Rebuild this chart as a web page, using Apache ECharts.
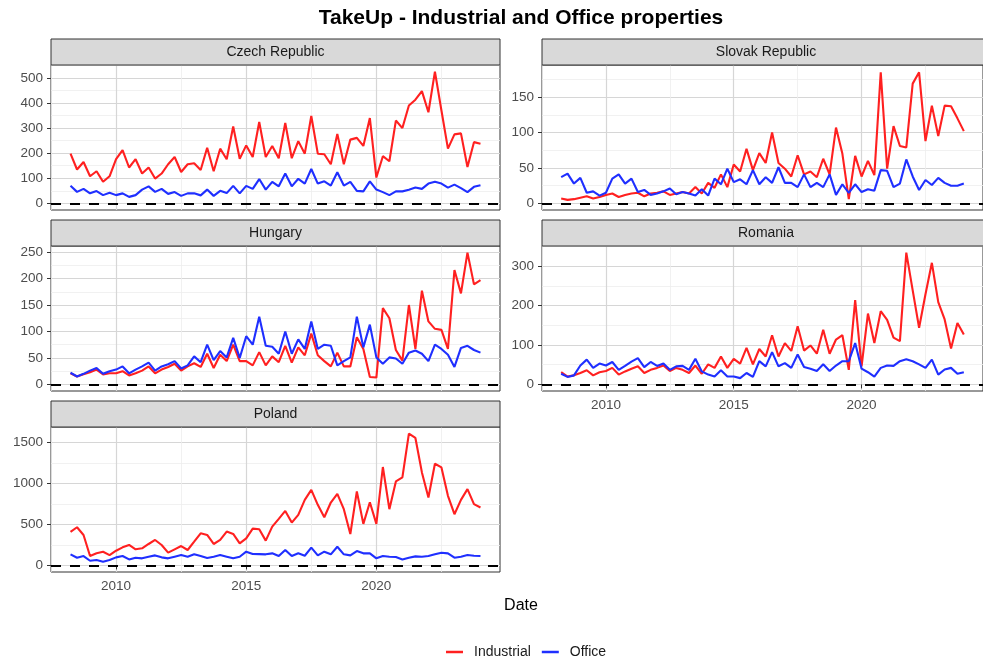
<!DOCTYPE html>
<html><head><meta charset="utf-8">
<script src="https://cdn.jsdelivr.net/npm/echarts@6/dist/echarts.min.js"></script>
<style>html,body{margin:0;padding:0;background:#fff}#c{width:983px;height:662px}</style>
</head><body><div id="c"></div>
<script>
// ---------- DATA ----------
const quarters = [
 '2008-04','2008-07','2008-10',
 '2009-01','2009-04','2009-07','2009-10',
 '2010-01','2010-04','2010-07','2010-10',
 '2011-01','2011-04','2011-07','2011-10',
 '2012-01','2012-04','2012-07','2012-10',
 '2013-01','2013-04','2013-07','2013-10',
 '2014-01','2014-04','2014-07','2014-10',
 '2015-01','2015-04','2015-07','2015-10',
 '2016-01','2016-04','2016-07','2016-10',
 '2017-01','2017-04','2017-07','2017-10',
 '2018-01','2018-04','2018-07','2018-10',
 '2019-01','2019-04','2019-07','2019-10',
 '2020-01','2020-04','2020-07','2020-10',
 '2021-01','2021-04','2021-07','2021-10',
 '2022-01','2022-04','2022-07','2022-10',
 '2023-01','2023-04','2023-07','2023-10',
 '2024-01'
];
const panelNames = ['Czech Republic','Slovak Republic','Hungary','Romania','Poland'];
const seriesNames = ['Industrial','Office'];

const czechIndustrial = [198,135,165,108,128,86,108,176,212,143,176,119,143,99,119,156,185,125,156,160,133,222,128,218,176,306,178,231,185,324,185,229,180,320,180,248,198,348,198,196,156,277,156,254,261,229,340,103,188,168,330,300,390,413,447,363,525,370,218,275,279,145,244,238];
const czechOffice = [70,46,58,40,49,33,42,33,40,26,33,55,68,46,58,38,45,30,40,40,32,55,30,50,41,70,40,70,58,97,55,86,68,119,68,98,79,137,79,88,71,124,71,86,50,48,88,55,45,33,48,48,54,63,58,79,86,79,63,75,61,45,66,72];

const slovakIndustrial = [7,5,6,8,10,7,9,12,14,9,12,14,15,10,14,15,17,12,14,16,14,23,14,29,22,41,23,55,45,77,47,71,57,100,57,49,38,68,41,45,37,63,41,107,70,6,67,38,60,40,185,49,109,81,79,169,185,88,138,95,138,137,120,102];
const slovakOffice = [37,42,28,36,15,17,11,15,35,41,28,35,16,19,12,14,17,21,13,16,14,11,20,11,35,27,49,30,34,27,47,27,37,29,51,29,29,23,41,23,29,23,41,12,27,15,27,16,20,18,47,46,23,28,62,38,19,33,26,36,29,25,25,28];

const hungaryIndustrial = [21,15,19,23,28,19,21,21,25,17,21,26,34,21,28,33,39,26,34,40,33,58,31,56,44,75,44,44,36,61,36,53,42,73,41,70,55,96,55,44,34,60,34,34,89,67,14,13,144,125,65,45,150,67,177,119,105,103,67,216,172,249,189,197];
const hungaryOffice = [22,15,20,26,31,20,25,28,34,21,28,34,41,26,34,38,44,30,36,53,42,75,46,63,51,88,50,91,75,128,73,71,58,100,58,85,67,119,67,75,73,36,44,51,128,70,113,51,39,51,49,39,60,64,58,44,75,67,56,33,69,73,65,60];

const romaniaIndustrial = [31,20,23,29,36,23,31,34,42,25,33,40,46,29,37,42,48,34,42,37,29,48,27,51,42,71,42,65,53,93,51,90,71,125,71,105,85,148,86,99,78,139,78,114,125,37,214,46,180,105,186,164,119,110,335,239,144,229,309,209,165,91,156,127];
const romaniaOffice = [27,19,23,48,63,42,53,48,57,37,47,58,67,44,57,47,53,37,46,47,37,65,33,25,20,36,20,20,16,29,19,59,46,82,46,54,42,76,44,40,34,51,34,48,59,59,105,40,31,20,42,48,47,59,64,59,51,42,63,25,38,42,27,31];

const polandIndustrial = [408,465,371,114,147,167,126,179,220,249,196,208,261,310,249,155,196,236,188,289,391,371,261,310,412,383,269,330,448,440,302,473,567,664,522,616,799,921,738,587,766,872,685,383,901,506,770,506,1199,685,1023,1072,1606,1553,1133,828,1239,1194,848,624,799,929,746,705];
const polandOffice = [135,94,114,57,65,45,65,98,114,73,94,86,106,122,98,86,106,126,106,135,114,90,106,126,106,86,106,167,139,137,135,147,114,188,114,147,118,216,122,167,135,228,135,122,175,147,147,86,114,106,102,73,94,110,106,114,135,155,147,94,106,126,118,114];

const xTickLabels = [2010, 2015, 2020];
const xMinorBreaks = [2007.5, 2012.5, 2017.5, 2022.5];
const xLimits = [2007.5, 2024.75];

const yTicksCzech = [0,100,200,300,400,500];
const yTicksSlovak = [0,50,100,150];
const yTicksHungary = [0,50,100,150,200,250];
const yTicksRomania = [0,100,200,300];
const yTicksPoland = [0,500,1000,1500];
const yMinorCzech = [50,150,250,350,450,550];
const yMinorSlovak = [25,75,125,175];
const yMinorHungary = [25,75,125,175,225];
const yMinorRomania = [50,150,250,350];
const yMinorPoland = [250,750,1250];
const yLimitsCzech = [-26.25, 551.25];
const yLimitsSlovak = [-9.3, 195.3];
const yLimitsHungary = [-12.45, 261.45];
const yLimitsRomania = [-16.75, 351.75];
const yLimitsPoland = [-80.3, 1686.3];

// ---------- BUILD ----------
function toYear(s){ const [y,m] = s.split('-').map(Number); return y + (m-1)/12; }
const xs = quarters.map(toYear);
const pairs = arr => arr.map((v,i)=>[xs[i], v]);

const panelData = [
  {ind: czechIndustrial, off: czechOffice, ticks: yTicksCzech, minor: yMinorCzech, lim: yLimitsCzech},
  {ind: slovakIndustrial, off: slovakOffice, ticks: yTicksSlovak, minor: yMinorSlovak, lim: yLimitsSlovak},
  {ind: hungaryIndustrial, off: hungaryOffice, ticks: yTicksHungary, minor: yMinorHungary, lim: yLimitsHungary},
  {ind: romaniaIndustrial, off: romaniaOffice, ticks: yTicksRomania, minor: yMinorRomania, lim: yLimitsRomania},
  {ind: polandIndustrial, off: polandOffice, ticks: yTicksPoland, minor: yMinorPoland, lim: yLimitsPoland}
];

// layout (styles)
const FONT = 'Liberation Sans, Arial, Helvetica, sans-serif';
const colL = 51, colR = 542, pw = 449, pwR = 448, ph = 145;
const rowTops = [65, 246, 427];
const stripH = 26;
const layout = [
  {left: colL, top: rowTops[0], width: pw, xlab: false},
  {left: colR, top: rowTops[0], width: pwR, xlab: false},
  {left: colL, top: rowTops[1], width: pw, xlab: false},
  {left: colR, top: rowTops[1], width: pwR, xlab: true},
  {left: colL, top: rowTops[2], width: pw, xlab: true}
];
const RED = '#FF2020', BLUE = '#1F2FFF';
const MAJOR = '#D6D6D6', MINOR = '#EDEDED', BORDER = '#333333', AXTXT = '#4D4D4D';
const plain = v => String(v);

const grid = [], xAxis = [], yAxis = [], series = [], graphic = [];

layout.forEach((L, i) => {
  grid.push({left: L.left, top: L.top, width: L.width, height: ph, show: true,
    borderColor: BORDER, borderWidth: 1, backgroundColor: 'transparent', containLabel: false});
});
// major axes 0..4
layout.forEach((L, i) => {
  xAxis.push({type: 'value', gridIndex: i, min: xLimits[0], max: xLimits[1],
    axisLine: {show: false},
    axisTick: {show: L.xlab, length: 4, lineStyle: {color: BORDER}, customValues: xTickLabels},
    axisLabel: {show: L.xlab, customValues: xTickLabels, formatter: plain, color: AXTXT, fontSize: 13.5, fontFamily: FONT, margin: 7},
    splitLine: {show: true, lineStyle: {color: MAJOR, width: 1.2}}
  });
  const P = panelData[i];
  yAxis.push({type: 'value', gridIndex: i, min: P.lim[0], max: P.lim[1],
    axisLine: {show: false},
    axisTick: {show: true, length: 4, lineStyle: {color: BORDER}, customValues: P.ticks},
    axisLabel: {show: true, customValues: P.ticks, formatter: plain, color: AXTXT, fontSize: 13.5, fontFamily: FONT, margin: 8},
    splitLine: {show: true, lineStyle: {color: MAJOR, width: 1.2}}
  });
});
// minor axes 5..9
layout.forEach((L, i) => {
  xAxis.push({type: 'value', gridIndex: i, min: xLimits[0], max: xLimits[1],
    axisLine: {show: false},
    axisTick: {show: false, customValues: xMinorBreaks},
    axisLabel: {show: false, customValues: xMinorBreaks},
    splitLine: {show: true, lineStyle: {color: MINOR, width: 0.8}}
  });
  const P = panelData[i];
  yAxis.push({type: 'value', gridIndex: i, min: P.lim[0], max: P.lim[1], position: 'left',
    axisLine: {show: false},
    axisTick: {show: false, customValues: P.minor},
    axisLabel: {show: false, customValues: P.minor},
    splitLine: {show: true, lineStyle: {color: MINOR, width: 0.8}}
  });
});

panelData.forEach((P, i) => {
  series.push({type: 'line', name: seriesNames[0], xAxisIndex: i, yAxisIndex: i,
    data: pairs(P.ind), showSymbol: false, symbol: 'none', color: RED,
    lineStyle: {color: RED, width: 2.1}, z: 3});
  series.push({type: 'line', name: seriesNames[1], xAxisIndex: i, yAxisIndex: i,
    data: pairs(P.off), showSymbol: false, symbol: 'none', color: BLUE,
    lineStyle: {color: BLUE, width: 2.1}, z: 4,
    markLine: {silent: true, symbol: ['none','none'], label: {show: false},
      lineStyle: {color: '#000', width: 2.2, type: [10, 9]}, data: [{yAxis: 0}], animation: false}
  });
  const L = layout[i];
  graphic.push({type: 'rect', shape: {x: L.left, y: L.top - stripH, width: L.width, height: stripH},
    style: {fill: '#D9D9D9', stroke: BORDER, lineWidth: 1}, z: 10});
  graphic.push({type: 'text', x: L.left + L.width/2, y: L.top - stripH/2,
    style: {text: panelNames[i], fill: '#1A1A1A', font: '14px ' + FONT, textAlign: 'center', textVerticalAlign: 'middle'}, z: 11});
});

graphic.push({type: 'text', x: 521, y: 18,
  style: {text: 'TakeUp - Industrial and Office properties', fill: '#000', font: 'bold 21px ' + FONT, textAlign: 'center', textVerticalAlign: 'middle'}});
graphic.push({type: 'text', x: 521, y: 606,
  style: {text: 'Date', fill: '#000', font: '16px ' + FONT, textAlign: 'center', textVerticalAlign: 'middle'}});

const chart = echarts.init(document.getElementById('c'), null, {renderer: 'canvas'});
chart.setOption({
  animation: false,
  backgroundColor: '#fff',
  textStyle: {fontFamily: FONT},
  grid, xAxis, yAxis, series, graphic,
  legend: {data: seriesNames, left: 441, top: 640, icon: 'rect', itemWidth: 17, itemHeight: 2.5, itemGap: 11,
    textStyle: {fontSize: 14, color: '#1A1A1A', fontFamily: FONT, padding: [0,0,0,6]}, selectedMode: false}
});
</script></body></html>
